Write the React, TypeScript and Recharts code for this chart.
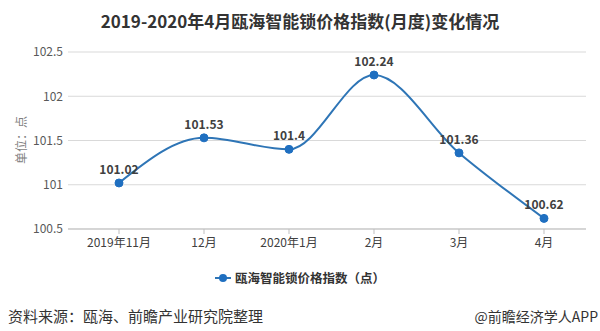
import React from "react";
import { LineChart, Line, XAxis, YAxis, CartesianGrid, Legend, LabelList } from "recharts";

const months = ["2019年11月", "12月", "2020年1月", "2月", "3月", "4月"];
const priceIndex = [101.02, 101.53, 101.4, 102.24, 101.36, 100.62];
const yTicks = [100.5, 101, 101.5, 102, 102.5];

const seriesName = "瓯海智能锁价格指数（点）";
const FONT = '"Noto Sans CJK SC", "Noto Sans", sans-serif';
const BLUE = "#2e75b6";
const DOT = "#1f6fc0";

const data = months.map((m, i) => ({ month: m, value: priceIndex[i] }));

function LegendContent() {
  return (
    <div style={{ display: "flex", justifyContent: "center", alignItems: "center", fontFamily: FONT }}>
      <svg width={16} height={12} style={{ marginRight: 4 }}>
        <line x1={0} y1={6} x2={16} y2={6} stroke={BLUE} strokeWidth={2} />
        <circle cx={8} cy={6} r={4} fill={DOT} />
      </svg>
      <span style={{ fontSize: 12.5, fontWeight: 700, color: "#333" }}>{seriesName}</span>
    </div>
  );
}

export default function App() {
  return (
    <div style={{ position: "absolute", top: 0, left: 0, width: 600, height: 331, background: "#fff", fontFamily: FONT }}>
      <div style={{ position: "absolute", top: 8, left: 0, width: 600, textAlign: "center", fontSize: 17, fontWeight: 700, color: "#333" }}>
        2019-2020年4月瓯海智能锁价格指数(月度)变化情况
      </div>
      <div style={{ position: "absolute", left: 20, top: 140, transform: "translate(-50%, -50%) rotate(-90deg)", fontSize: 12, color: "#7f7f7f", whiteSpace: "nowrap" }}>
        单位：点
      </div>
      <LineChart width={600} height={331} data={data} margin={{ top: 52, right: 14, bottom: 0, left: 0 }}>
        <CartesianGrid vertical={false} stroke="#d9d9d9" />
        <XAxis
          dataKey="month"
          height={102}
          padding={{ left: 51, right: 42 }}
          tick={{ fontSize: 12, fill: "#404040", fontFamily: FONT }}
          tickSize={5}
          tickMargin={4}
          axisLine={{ stroke: "#bfbfbf" }}
          tickLine={{ stroke: "#bfbfbf" }}
        />
        <YAxis
          width={68}
          domain={[100.5, 102.5]}
          ticks={yTicks}
          tick={{ fontSize: 12, fill: "#595959", fontFamily: FONT }}
          axisLine={false}
          tickLine={false}
          tickSize={0}
          tickMargin={5}
        />
        <Legend verticalAlign="middle" align="center" content={<LegendContent />} wrapperStyle={{ top: 268, left: 0, width: 600 }} />
        <Line
          type="monotone"
          dataKey="value"
          name={seriesName}
          stroke={BLUE}
          strokeWidth={2}
          dot={{ r: 4, fill: DOT, stroke: DOT, strokeWidth: 1 }}
          isAnimationActive={false}
        >
          <LabelList dataKey="value" position="top" offset={9} style={{ fontSize: 12, fontWeight: 700, fill: "#404040", fontFamily: FONT }} />
        </Line>
      </LineChart>
      <div style={{ position: "absolute", left: 8, top: 305, fontSize: 15, color: "#333" }}>资料来源：瓯海、前瞻产业研究院整理</div>
      <div style={{ position: "absolute", right: 2, top: 306, fontSize: 14, color: "#333" }}>@前瞻经济学人APP</div>
    </div>
  );
}
